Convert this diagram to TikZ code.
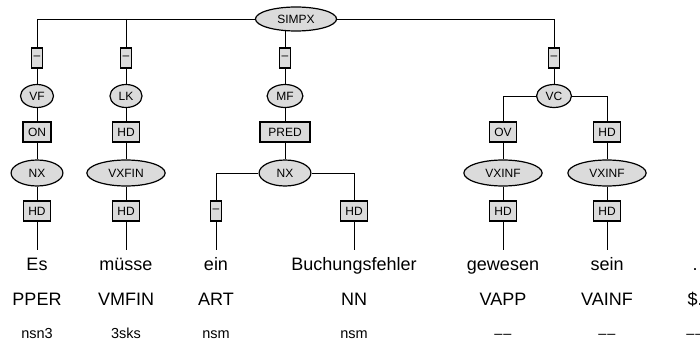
\documentclass[tikz,border=0pt]{standalone}
\usepackage{fontspec}
\setmainfont{Liberation Sans}
\usetikzlibrary{shapes.geometric, backgrounds}
\definecolor{nodegray}{gray}{0.86}
\tikzset{
  cat/.style={ellipse, draw, fill=nodegray, line width=1.2pt, inner xsep=10pt, inner ysep=0pt, minimum height=26pt, font=\fontsize{12}{14}\selectfont},
  smallcat/.style={cat, inner xsep=4pt, minimum height=23pt},
  fn/.style={rectangle, draw, fill=nodegray, line width=1.2pt, inner xsep=5pt, inner ysep=0pt, minimum height=20pt, font=\fontsize{12}{14}\selectfont},
  nofn/.style={fn, inner xsep=0pt, minimum width=11pt},
  tok/.style={anchor=base, inner ysep=7pt, text height=13pt, text depth=4pt, font=\fontsize{18}{20}\selectfont},
  tag/.style={anchor=base, inner sep=0pt, font=\fontsize{18}{20}\selectfont},
  morph/.style={anchor=base, inner sep=0pt, font=\fontsize{14.5}{16}\selectfont},
  edge/.style={line width=1.2pt}
}
\newcommand{\tokenCol}[5]{
  \node[tok] (#1) at (#2,270) {#3};
  \node[tag] (#1pos) at (#2,305) {#4};
  \node[morph] (#1morph) at (#2,338) {#5};
}
\newcommand{\nomorph}{\textendash\kern1pt\textendash}

\begin{document}
\begin{tikzpicture}[x=1pt, y=-1pt]
  \useasboundingbox (0,0) rectangle (700,342);
  % words, tags, morphology
  \tokenCol{es}{37}{Es}{PPER}{nsn3}
  \tokenCol{muesse}{126}{müsse}{VMFIN}{3sks}
  \tokenCol{ein}{216}{ein}{ART}{nsm}
  \tokenCol{fehler}{354}{Buchungsfehler}{NN}{nsm}
  \tokenCol{gewesen}{503}{gewesen}{VAPP}{\nomorph}
  \tokenCol{sein}{607}{sein}{VAINF}{\nomorph}
  \tokenCol{punct}{695}{.}{\$.}{\nomorph}

  \node[cat, minimum height=24pt] (simpx) at (296,19) {SIMPX};

  \node[nofn] (vfdash) at (37,58) {–};
  \node[nofn] (lkdash) at (126,58) {–};
  \node[nofn] (mfdash) at (285,58) {–};
  \node[nofn] (vcdash) at (554,58) {–};

  \node[smallcat] (vf) at (37,96) {VF};
  \node[smallcat] (lk) at (126,96) {LK};
  \node[smallcat] (mf) at (285,96) {MF};
  \node[smallcat] (vc) at (554,96) {VC};

  \node[fn] (on) at (37,132) {ON};
  \node[fn] (lkhd) at (126,132) {HD};
  \node[fn, minimum width=50pt] (pred) at (285,132) {PRED};
  \node[fn] (ov) at (503,132) {OV};
  \node[fn] (vchd) at (607,132) {HD};

  \node[cat] (nxa) at (37,173) {NX};
  \node[cat] (vxfin) at (126,173) {VXFIN};
  \node[cat] (nxb) at (285,173) {NX};
  \node[cat] (vxinfa) at (503,173) {VXINF};
  \node[cat] (vxinfb) at (607,173) {VXINF};

  \node[fn] (hda) at (37,211) {HD};
  \node[fn] (hdb) at (126,211) {HD};
  \node[nofn] (eindash) at (216,211) {–};
  \node[fn] (nnhd) at (354,211) {HD};
  \node[fn] (hdc) at (503,211) {HD};
  \node[fn] (hdd) at (607,211) {HD};

  \begin{scope}[on background layer, edge]
    \draw (simpx) -| (vfdash);
    \draw (simpx) -| (vcdash);
    \draw (lkdash |- simpx) -- (lkdash);
    \draw (mfdash |- simpx) -- (mfdash);
    \draw (vfdash) -- (vf) -- (on) -- (nxa) -- (hda) -- (es.north);
    \draw (lkdash) -- (lk) -- (lkhd) -- (vxfin) -- (hdb) -- (muesse.north);
    \draw (mfdash) -- (mf) -- (pred) -- (nxb);
    \draw (nxb) -| (eindash);
    \draw (nxb) -| (nnhd);
    \draw (eindash) -- (ein.north);
    \draw (nnhd) -- (fehler.north);
    \draw (vcdash) -- (vc);
    \draw (vc) -| (ov);
    \draw (vc) -| (vchd);
    \draw (ov) -- (vxinfa) -- (hdc) -- (gewesen.north);
    \draw (vchd) -- (vxinfb) -- (hdd) -- (sein.north);
  \end{scope}
\end{tikzpicture}
\end{document}
